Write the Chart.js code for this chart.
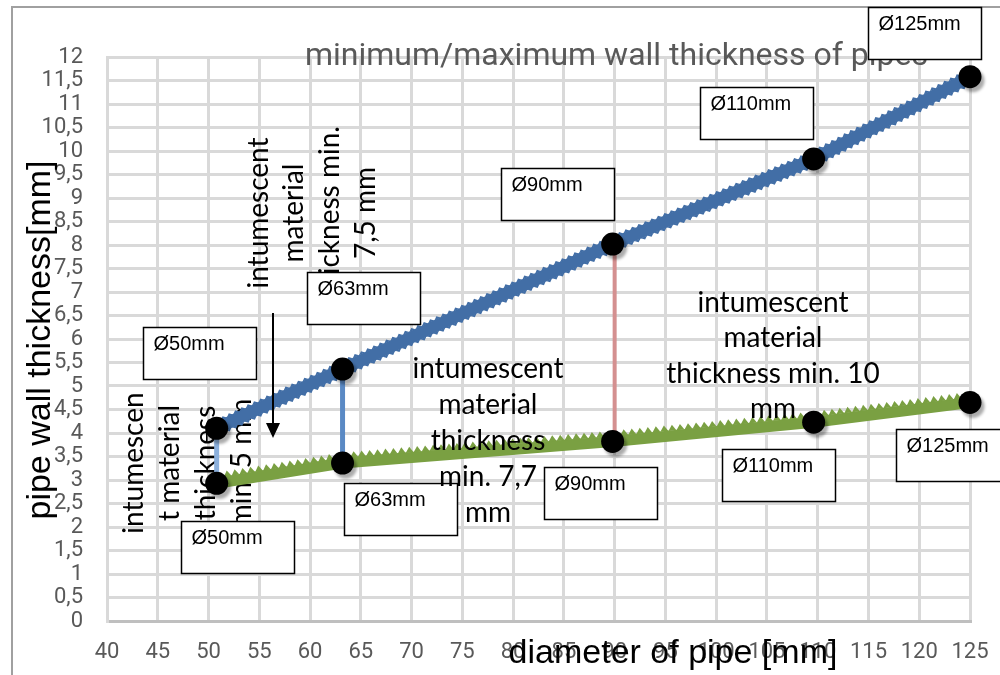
<!DOCTYPE html>
<html><head><meta charset="utf-8">
<script src="https://cdn.jsdelivr.net/npm/chart.js@4.4.0/dist/chart.umd.min.js"></script>
<style>html,body{margin:0;padding:0;background:#fff;}#wrap{width:1000px;height:675px;position:relative;}</style>
</head><body><div id="wrap"><canvas id="c" width="1000" height="675"></canvas></div>
<script>
// ---- data ----
const chartTitle = 'minimum/maximum wall thickness of pipes';
const xAxisTitle = 'diameter of pipe [mm]';
const yAxisTitle = 'pipe wall thickness[mm]';
const diameterLabels = ['Ø50mm', 'Ø63mm', 'Ø90mm', 'Ø110mm', 'Ø125mm'];
const maxX = [50.8, 63.2, 89.8, 109.6, 125];
const maxWall = [4.10, 5.36, 8.02, 9.83, 11.58];
const minX = [50.8, 63.2, 89.8, 109.6, 125];
const minWall = [2.93, 3.36, 3.82, 4.23, 4.65];
const connectorX = [50.8, 63.2, 90];
const connectorLow = [2.93, 3.36, 3.82];
const connectorHigh = [4.10, 5.36, 8.02];
const xTickValues = [40, 45, 50, 55, 60, 65, 70, 75, 80, 85, 90, 95, 100, 105, 110, 115, 120, 125];
const yTickValues = [0, 0.5, 1, 1.5, 2, 2.5, 3, 3.5, 4, 4.5, 5, 5.5, 6, 6.5, 7, 7.5, 8, 8.5, 9, 9.5, 10, 10.5, 11, 11.5, 12];
const noteA = ['intumescent', 'material', 'thickness min.', '7,5 mm'];
const noteB = ['intumescen', 't material', 'thickness', 'min. 5 mm'];
const noteC = ['intumescent', 'material', 'thickness', 'min. 7,7', 'mm'];
const noteD = ['intumescent', 'material', 'thickness min. 10', 'mm'];

// ---- layout / style (not data) ----
const BLUE = '#426ea6', GREEN = '#7aa042';
const connectorColors = ['#8cb0dc', '#5a89c4', '#d49090'];
const upperBoxOffsets = [[-74, -101], [-36, -97], [-112, -76], [-114, -72], [-102, -70]];
const lowerBoxOffsets = [[-36, 38], [1, 20], [-69, 26], [-92, 27], [-74, 27]];
const BOX_W = 113, BOX_H = 52;
const NOTE_FONT = '28px Lato';
const noteALayout = { cy: 213, xs: [268, 303, 339, 375] };
const noteBLayout = { cy: 463, xs: [143, 179, 215, 251] };
const noteCLayout = { cx: 488, ys: [378, 414, 450, 486, 522] };
const noteDLayout = { cx: 773, ys: [312, 347, 383, 418] };

const datasets = [];
datasets.push({ data: maxX.map((x, i) => ({ x, y: maxWall[i] })), showLine: false, pointRadius: 11.5,
  pointBackgroundColor: '#000', pointBorderWidth: 0, order: 0, clip: false, shadow: true });
datasets.push({ data: minX.map((x, i) => ({ x, y: minWall[i] })), showLine: false, pointRadius: 11.5,
  pointBackgroundColor: '#000', pointBorderWidth: 0, order: 0, clip: false, shadow: true });
connectorX.forEach((x, i) => {
  datasets.push({ data: [{ x, y: connectorLow[i] }, { x, y: connectorHigh[i] }], borderColor: connectorColors[i],
    borderWidth: i === 2 ? 4 : 5, pointRadius: 0, order: 2, clip: false });
});
datasets.push({ data: maxX.map((x, i) => ({ x, y: maxWall[i] })), borderColor: BLUE, borderWidth: 12,
  pointRadius: 0, order: 3, clip: false, saw: { base: 5.5, height: 3, period: 7, skew: 0.5, sides: [1, -1] } });
datasets.push({ data: minX.map((x, i) => ({ x, y: minWall[i] })), borderColor: GREEN, borderWidth: 11,
  pointRadius: 0, order: 4, clip: false, saw: { base: 5, height: 6, period: 8, skew: 0.5, sides: [1] } });

function drawSaw(ctx, pts, s, color) {
  ctx.save(); ctx.fillStyle = color;
  for (let i = 0; i < pts.length - 1; i++) {
    const a = pts[i], b = pts[i + 1];
    const dx = b.x - a.x, dy = b.y - a.y, L = Math.hypot(dx, dy);
    const ux = dx / L, uy = dy / L, nx = uy, ny = -ux;
    const n = Math.max(1, Math.round(L / s.period)), per = L / n;
    for (const side of s.sides) {
      const h0 = side * s.base, h1 = side * (s.base + s.height);
      ctx.beginPath();
      for (let k = 0; k < n; k++) {
        const t0 = k * per, tm = t0 + per * s.skew, t1 = t0 + per;
        ctx.moveTo(a.x + ux * t0 + nx * h0, a.y + uy * t0 + ny * h0);
        ctx.lineTo(a.x + ux * tm + nx * h1, a.y + uy * tm + ny * h1);
        ctx.lineTo(a.x + ux * t1 + nx * h0, a.y + uy * t1 + ny * h0);
        ctx.closePath();
      }
      ctx.fill();
    }
  }
  ctx.restore();
}

const decorPlugin = {
  id: 'decor',
  beforeDraw(chart) {
    const ctx = chart.ctx;
    ctx.save();
    ctx.fillStyle = '#fff'; ctx.fillRect(0, 0, chart.width, chart.height);
    ctx.strokeStyle = '#a0a0a0'; ctx.lineWidth = 2;
    ctx.beginPath(); ctx.moveTo(12, 675); ctx.lineTo(12, 7); ctx.lineTo(1000, 7); ctx.stroke();
    ctx.restore();
  },
  beforeDatasetDraw(chart, args) {
    const ds = chart.data.datasets[args.index];
    if (ds.shadow) {
      const ctx = chart.ctx; ctx.save();
      ctx.shadowColor = 'rgba(0,0,0,0.33)'; ctx.shadowOffsetX = 3; ctx.shadowOffsetY = 4; ctx.shadowBlur = 3;
    }
  },
  afterDatasetDraw(chart, args) {
    const ds = chart.data.datasets[args.index];
    if (ds.shadow) chart.ctx.restore();
    if (ds.saw) drawSaw(chart.ctx, args.meta.data.map(p => ({ x: p.x, y: p.y })), ds.saw, ds.borderColor);
  },
  beforeDatasetsDraw(chart) {
    const ctx = chart.ctx;
    ctx.save();
    ctx.font = '32px Roboto'; ctx.fillStyle = '#595959'; ctx.textAlign = 'left'; ctx.textBaseline = 'alphabetic';
    ctx.fillText(chartTitle, 305, 65);
    ctx.fillStyle = '#000'; ctx.font = '34px "Liberation Sans"'; ctx.textAlign = 'center';
    ctx.fillText(xAxisTitle, 673, 663);
    ctx.save(); ctx.translate(50, 340); ctx.rotate(-Math.PI / 2); ctx.fillText(yAxisTitle, 0, 0); ctx.restore();
    ctx.font = NOTE_FONT;
    [[noteA, noteALayout], [noteB, noteBLayout]].forEach(([lines, lay]) => {
      lines.forEach((t, i) => {
        ctx.save(); ctx.translate(lay.xs[i], lay.cy); ctx.rotate(-Math.PI / 2); ctx.fillText(t, 0, 0); ctx.restore();
      });
    });
    ctx.restore();
  },
  afterDatasetsDraw(chart) {
    const ctx = chart.ctx, xs = chart.scales.x, ys = chart.scales.y;
    ctx.save();
    ctx.fillStyle = '#000'; ctx.textAlign = 'center'; ctx.textBaseline = 'alphabetic'; ctx.font = NOTE_FONT;
    noteD.forEach((t, i) => ctx.fillText(t, noteDLayout.cx, noteDLayout.ys[i]));
    const drawBox = (px, py, off, label) => {
      const bx = Math.round(px + off[0]) + 0.5, by = Math.round(py + off[1]) + 0.5;
      ctx.fillStyle = '#fff'; ctx.fillRect(bx, by, BOX_W, BOX_H);
      ctx.strokeStyle = '#000'; ctx.lineWidth = 1.5; ctx.strokeRect(bx, by, BOX_W, BOX_H);
      ctx.fillStyle = '#000'; ctx.font = '20px "Liberation Sans"'; ctx.textAlign = 'left';
      ctx.fillText(label, bx + 10, by + 22);
    };
    maxX.forEach((x, i) => drawBox(xs.getPixelForValue(x), ys.getPixelForValue(maxWall[i]), upperBoxOffsets[i], diameterLabels[i]));
    minX.forEach((x, i) => drawBox(xs.getPixelForValue(x), ys.getPixelForValue(minWall[i]), lowerBoxOffsets[i], diameterLabels[i]));
    ctx.fillStyle = '#000'; ctx.textAlign = 'center'; ctx.font = NOTE_FONT;
    noteC.forEach((t, i) => ctx.fillText(t, noteCLayout.cx, noteCLayout.ys[i]));
    ctx.strokeStyle = '#000'; ctx.lineWidth = 2;
    ctx.beginPath(); ctx.moveTo(273, 313); ctx.lineTo(273, 426); ctx.stroke();
    ctx.beginPath(); ctx.moveTo(266, 423); ctx.lineTo(280, 423); ctx.lineTo(273, 438); ctx.closePath(); ctx.fill();
    ctx.restore();
  }
};

new Chart(document.getElementById('c'), {
  type: 'line',
  data: { datasets },
  options: {
    responsive: false, animation: false, parsing: true,
    layout: { padding: { left: 0, top: 57, right: 30, bottom: 0 } },
    plugins: { legend: { display: false }, tooltip: { enabled: false }, title: { display: false } },
    scales: {
      x: {
        type: 'linear', min: 40, max: 125,
        afterBuildTicks: s => { s.ticks = xTickValues.map(v => ({ value: v })); },
        afterFit: s => { s.height = 54; s.paddingLeft = 0; s.paddingRight = 0; },
        grid: { color: '#d9d9d9', lineWidth: 3, drawTicks: false },
        border: { display: true, color: '#bfbfbf', width: 3 },
        ticks: { padding: 18, color: '#595959', font: { family: 'Roboto', size: 22 }, maxRotation: 0, autoSkip: false }
      },
      y: {
        type: 'linear', min: 0, max: 12,
        afterBuildTicks: s => { s.ticks = yTickValues.map(v => ({ value: v })); },
        afterFit: s => { s.width = 107; s.paddingTop = 0; s.paddingBottom = 0; },
        grid: { color: '#d9d9d9', lineWidth: 3, drawTicks: false },
        border: { display: true, color: '#d9d9d9', width: 3 },
        ticks: { padding: 24, color: '#595959', font: { family: 'Roboto', size: 22 }, autoSkip: false,
          callback: v => String(v).replace('.', ',') }
      }
    }
  },
  plugins: [decorPlugin]
});
</script></body></html>
